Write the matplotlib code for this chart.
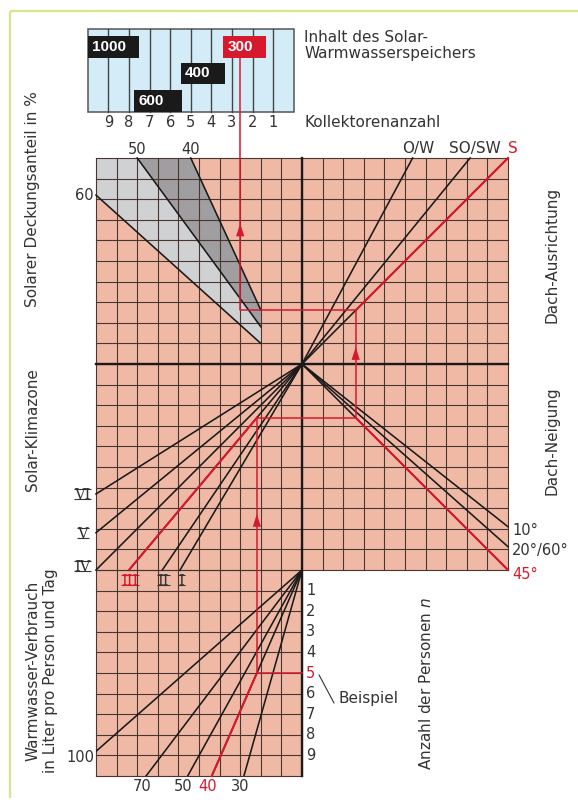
import matplotlib
matplotlib.use("Agg")
import matplotlib.pyplot as plt
from matplotlib.patches import Polygon, Rectangle

# ---------------- data (nomogram scales, grid units) ----------------
collector_counts = [9, 8, 7, 6, 5, 4, 3, 2, 1]
storage_labels = ["1000", "600", "400", "300"]
storage_cols = [(0.0, 2.5), (2.26, 4.56), (4.53, 6.66), (6.58, 8.64)]
storage_rows = [0, 2, 1, 0]

coverage_labels = ["60", "50", "40"]
coverage_start = [(-10.0, 8.2), (-8.0, 10.0), (-5.4, 10.0)]
coverage_end_v = [1.0, 1.81, 2.62]          # at u = -2

orientation_labels = ["O/W", "SO/SW", "S"]
orientation_top_u = [5.37, 8.16, 10.0]       # where lines meet the top edge

tilt_labels = ["10°", "20°/60°", "45°"]
tilt_right_v = [-7.9, -8.87, -10.0]          # where lines meet the right edge

zone_labels = ["VI", "V", "IV", "III", "II", "I"]
zone_end_u = [-10.0, -10.0, -10.0, -8.4, -6.78, -5.92]
zone_end_v = [-6.31, -8.19, -10.0, -10.0, -10.0, -10.0]

persons = [1, 2, 3, 4, 5, 6, 7, 8, 9]
consumption = [100, 70, 50, 40, 30]
consumption_bottom_u = [-11.36, -7.57, -5.55, -4.38, -2.82]   # crossing at n = 10

example_persons = 5
example_consumption = 40
example_zone = "III"
example_tilt = "45°"
example_orientation = "S"
example_storage = "300"
example_u = -3.0

# ---------------- styling ----------------
SALMON = "#f0b9a5"
LGRAY = "#d0d1d3"
DGRAY = "#a09ea0"
BLUE = "#d4ecf7"
RED = "#d7192d"
GRID = "#4a3630"
TXT = "#333333"
BLACK = "#1a1a1a"

plt.rcParams["font.family"] = ["DejaVu Sans"]

S = 20.6            # pixels per grid unit
OX, OY = 302, 364   # origin pixel
W, H = 578, 806

fig = plt.figure(figsize=(W / 100, H / 100), dpi=100)
ax = fig.add_axes([0, 0, 1, 1])
ax.set_xlim(-OX / S, (W - OX) / S)
ax.set_ylim((OY - H) / S, OY / S)
ax.axis("off")

# outer frame (top and left)
ax.plot([-14.17, (W - OX) / S], [17.14, 17.14], color="#d8e48c", lw=1.6, solid_capstyle="butt")
ax.plot([-14.17, -14.17], [17.14, -21.07], color="#d8e48c", lw=1.6, solid_capstyle="butt")

# ---------------- grid background ----------------
ax.add_patch(Rectangle((-10, -10), 20, 20, facecolor=SALMON, edgecolor="none", zorder=1))
lower = Rectangle((-10, -20), 10, 10, facecolor=SALMON, edgecolor="none", zorder=1)
ax.add_patch(lower)

# gray coverage regions
light = [(-10, 10), coverage_start[1], (-2, coverage_end_v[1]), (-2, coverage_end_v[0]), coverage_start[0]]
dark = [coverage_start[1], coverage_start[2], (-2, coverage_end_v[2]), (-2, coverage_end_v[1])]
ax.add_patch(Polygon(light, closed=True, facecolor=LGRAY, edgecolor="none", zorder=2))
ax.add_patch(Polygon(dark, closed=True, facecolor=DGRAY, edgecolor="none", zorder=2))

# grid lines
for k in range(-10, 11):
    ax.plot([k, k], [-10, 10], color=GRID, lw=0.8, zorder=3)
    ax.plot([-10, 10], [k, k], color=GRID, lw=0.8, zorder=3)
for k in range(-10, 1):
    ax.plot([k, k], [-20, -10], color=GRID, lw=0.8, zorder=3)
for k in range(-20, -9):
    ax.plot([-10, 0], [k, k], color=GRID, lw=0.8, zorder=3)
ax.plot([0, 0], [-20, 10], color=BLACK, lw=1.7, zorder=4)
ax.plot([-10, 10], [0, 0], color=BLACK, lw=1.7, zorder=4)

# ---------------- nomogram lines ----------------
LW = 1.15
for (su, sv), ev in zip(coverage_start, coverage_end_v):
    ax.plot([su, -2], [sv, ev], color=BLACK, lw=LW, zorder=5)
for tu in orientation_top_u:
    ax.plot([0, tu], [0, 10], color=BLACK, lw=LW, zorder=5)
for tv in tilt_right_v:
    ax.plot([0, 10], [0, tv], color=BLACK, lw=LW, zorder=5)
for zu, zv in zip(zone_end_u, zone_end_v):
    ax.plot([0, zu], [0, zv], color=BLACK, lw=LW, zorder=5)
for bu in consumption_bottom_u:
    ln, = ax.plot([0, bu], [-10, -20], color=BLACK, lw=LW, zorder=5)
    ln.set_clip_path(lower)

# ---------------- example path ----------------
ic = consumption.index(example_consumption)
u1 = consumption_bottom_u[ic] * example_persons / 10
vp = -10 - example_persons
iz = zone_labels.index(example_zone)
v2 = u1 * zone_end_v[iz] / zone_end_u[iz]
it = tilt_labels.index(example_tilt)
u3 = v2 * 10 / tilt_right_v[it]
io = orientation_labels.index(example_orientation)
v4 = u3 * 10 / orientation_top_u[io]

# top panel geometry
PL, PB, PT = -10.4, 12.23, 16.26
row_v = [(14.87, 15.92), (13.58, 14.63), (12.25, 13.30)]
isx = storage_labels.index(example_storage)
box_bottom = row_v[storage_rows[isx]][0]

path_u = [0, u1, u1, u3, u3, example_u, example_u]
path_v = [vp, vp, v2, v2, v4, v4, box_bottom]
ax.plot(path_u, path_v, color=RED, lw=1.1, zorder=6)
ax.plot([u1, consumption_bottom_u[ic]], [vp, -20], color=RED, lw=1.5, zorder=6)
ax.plot([u1, zone_end_u[iz]], [v2, zone_end_v[iz]], color=RED, lw=1.5, zorder=6)
ax.plot([u3, 10], [v2, tilt_right_v[it]], color=RED, lw=1.5, zorder=6)
ax.plot([u3, orientation_top_u[io]], [v4, 10], color=RED, lw=1.5, zorder=6)

def arrow(u, v):
    ax.add_patch(Polygon([(u - 0.2, v - 0.3), (u + 0.2, v - 0.3), (u, v + 0.32)],
                         closed=True, facecolor=RED, edgecolor="none", zorder=7))

arrow(example_u, 6.5)
arrow(u3, 0.5)
arrow(u1, -7.6)

# ---------------- top panel ----------------
ax.add_patch(Rectangle((PL, PB), 10, PT - PB, facecolor=BLUE, edgecolor="#555555", lw=1.1, zorder=2))
for k in range(1, 10):
    ax.plot([PL + k, PL + k], [PB, PT], color="#444444", lw=1.0, zorder=3)
for lab, (c0, c1), r in zip(storage_labels, storage_cols, storage_rows):
    fc = RED if lab == example_storage else BLACK
    b, t = row_v[r]
    ax.add_patch(Rectangle((PL + c0, b), c1 - c0, t - b, facecolor=fc, edgecolor="none", zorder=8))
    ax.text(PL + c0 + 0.2, (b + t) / 2, lab, color="white", fontsize=11, fontweight="bold",
            family="Liberation Sans", ha="left", va="center", zorder=9)
for n in collector_counts:
    ax.text(PL + (10 - n), 11.7, str(n), color=TXT, fontsize=10.5, ha="center", va="center")
ax.text(0.1, 15.87, "Inhalt des Solar-", color=TXT, fontsize=11, ha="left", va="center")
ax.text(0.1, 15.05, "Warmwasserspeichers", color=TXT, fontsize=11, ha="left", va="center")
ax.text(0.1, 11.7, "Kollektorenanzahl", color=TXT, fontsize=11, ha="left", va="center")

# ---------------- scale labels ----------------
ax.text(-10.1, coverage_start[0][1], coverage_labels[0], color=TXT, fontsize=10.5, ha="right", va="center")
for lab, (su, sv) in zip(coverage_labels[1:], coverage_start[1:]):
    ax.text(su, 10.4, lab, color=TXT, fontsize=10.5, ha="center", va="center")
for lab, tu in zip(orientation_labels, orientation_top_u):
    ax.text(tu + 0.25, 10.45, lab, color=RED if lab == example_orientation else TXT,
            fontsize=11, ha="center", va="center")
for lab, tv in zip(tilt_labels, tilt_right_v):
    ax.text(10.2, tv - 0.2, lab, color=RED if lab == example_tilt else TXT,
            fontsize=10.5, ha="left", va="center")

# roman numerals with top and bottom bars
roman_texts = []
CAP = 0.5
for lab, zu, zv in zip(zone_labels, zone_end_u, zone_end_v):
    col = RED if lab == example_zone else TXT
    if zu <= -10 and zv > -10:
        x, yc = -10.65, zv
    elif zu <= -10:
        x, yc = -10.65, zv + 0.2
    else:
        x, yc = zu + 0.05, -10.5
    t = ax.text(x, yc - CAP / 2, lab, color=col, fontsize=10.5, ha="center", va="baseline",
                family="DejaVu Serif", fontweight="light")
    roman_texts.append((t, x, yc, col))
fig.canvas.draw()
renderer = fig.canvas.get_renderer()
inv = ax.transData.inverted()
for t, x, yc, col in roman_texts:
    bb = t.get_window_extent(renderer)
    (x0, _), (x1, _) = inv.transform([(bb.x0, bb.y0), (bb.x1, bb.y1)])
    for yy in (yc - CAP / 2, yc + CAP / 2):
        ax.plot([x0 - 0.03, x1 + 0.03], [yy, yy], color=col, lw=0.8, solid_capstyle="butt")

for n in persons:
    ax.text(0.2, -10 - n, str(n), color=RED if n == example_persons else TXT,
            fontsize=10.5, ha="left", va="center")
for lab, bu in zip(consumption, consumption_bottom_u):
    col = RED if lab == example_consumption else TXT
    if bu < -10:
        vv = -10 - 10 * (-10) / bu
        ax.text(-10.1, vv - 0.3, str(lab), color=col, fontsize=10.5, ha="right", va="center")
    else:
        ax.text(bu - 0.2, -20.53, str(lab), color=col, fontsize=10.5, ha="center", va="center")

ax.plot([0.83, 1.55], [-15.1, -16.45], color=TXT, lw=0.8)
ax.text(1.75, -16.26, "Beispiel", color=TXT, fontsize=11, ha="left", va="center")

# ---------------- axis titles ----------------
ax.text(-13.06, 8.0, "Solarer Deckungsanteil in %", color=TXT, fontsize=11, rotation=90, ha="center", va="center")
ax.text(-13.06, -3.2, "Solar-Klimazone", color=TXT, fontsize=11, rotation=90, ha="center", va="center")
ax.text(-13.06, -14.9, "Warmwasser-Verbrauch", color=TXT, fontsize=11, rotation=90, ha="center", va="center")
ax.text(-12.23, -14.9, "in Liter pro Person und Tag", color=TXT, fontsize=11, rotation=90, ha="center", va="center")
ax.text(12.14, 5.3, "Dach-Ausrichtung", color=TXT, fontsize=11, rotation=90, ha="center", va="center")
ax.text(12.14, -3.7, "Dach-Neigung", color=TXT, fontsize=11, rotation=90, ha="center", va="center")
ax.text(6.0, -15.5, "Anzahl der Personen $n$", color=TXT, fontsize=11, rotation=90, ha="center", va="center")

fig.savefig("out.png", dpi=100, facecolor="white")
